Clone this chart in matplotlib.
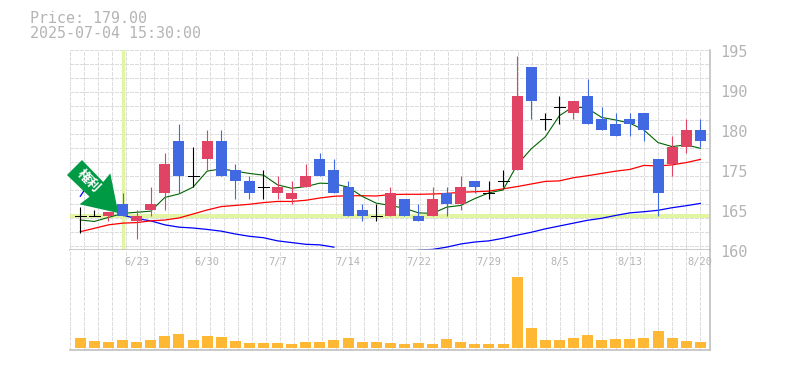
import numpy as np
import matplotlib
matplotlib.use('Agg')
import matplotlib.pyplot as plt
from matplotlib.patches import Polygon
from matplotlib.transforms import Affine2D

plt.rcParams['font.family'] = ['DejaVu Sans Mono']

# 日足データ
dates = ['6/23', '6/30', '7/7', '7/14', '7/22', '7/29', '8/5', '8/13', '8/20']
date_idx = [4, 9, 14, 19, 24, 29, 34, 39, 44]
opens = [166, 166, 166, 168, 165, 167, 170, 179, 173, 176, 179, 174, 172, 171, 170,
         169, 171, 176, 174, 171, 167, 166, 166, 169, 166, 166, 170, 168, 172, 170,
         172, 174, 192, 183, 185, 184, 187, 183, 182, 183, 184, 176, 175, 178, 181]
closes = [166, 166, 166.6, 166, 166, 168, 175, 173, 173, 179, 173, 172, 170, 171, 171,
          170, 173, 173, 170, 166, 166, 166, 170, 166, 165, 169, 168, 171, 171, 170,
          172, 187, 186, 183, 185, 186, 182, 181, 180, 182, 181, 170, 178, 181, 179]
highs = [167.5, 167, 166.6, 170, 167, 171, 177, 182, 178, 181, 181, 175, 173, 174, 173,
         172, 175, 177, 176, 172, 168, 168, 171, 169, 168, 171, 171, 173, 172, 172,
         174, 194, 192, 184, 187, 186, 190, 185, 184, 184, 184, 176, 180, 183, 183]
lows = [163, 166, 165, 166, 162, 166, 167, 170, 171, 174, 173, 169, 169, 169, 169,
        168, 171, 173, 170, 166, 165, 165, 166, 166, 165, 166, 166, 167, 170, 169,
        171, 174, 183, 181, 182, 183, 182, 181, 180, 180, 179, 166, 173, 177, 178]
volumes = [10, 7, 6, 8, 6, 8, 12, 14, 8, 12, 11, 7, 5, 5, 5, 4, 6, 6, 8, 10, 6, 6, 5,
           4, 5, 4, 9, 6, 4, 4, 4, 71, 20, 8, 8, 10, 13, 8, 9, 9, 10, 17, 10, 7, 6]

# 移動平均
ma_short = [165.25, 165.0, 165.7, 166.4, 166.6, 166.8, 169.2, 169.8, 171.0, 173.8, 174.2,
            173.8, 173.4, 173.1, 171.4, 170.8, 171.1, 171.7, 171.6, 171.0, 169.4, 168.2,
            167.8, 167.3, 166.5, 166.4, 167.5, 167.8, 169.0, 170.0, 170.5, 174.9, 177.7,
            179.8, 183.5, 185.1, 184.8, 183.2, 182.75, 182.2, 181.0, 178.8, 178.1, 178.4, 177.8]
ma_mid = [163.2, 163.8, 164.4, 164.7, 164.8, 165.1, 165.25, 165.6, 166.3, 167.0, 167.6,
          167.8, 168.0, 168.3, 168.5, 168.5, 168.7, 169.1, 169.4, 169.5, 169.5, 169.45,
          169.7, 169.75, 169.75, 169.8, 169.9, 170.1, 170.2, 170.3, 170.7, 171.1, 171.55,
          172.0, 172.1, 172.65, 173.0, 173.4, 173.8, 174.1, 174.8, 174.7, 174.9, 175.3, 175.85]
ma_long = [169.4, 173.1, 169.5, 166.1, 165.5, 165.1, 164.4, 164.0, 163.85, 163.6, 163.3,
           162.8, 162.4, 162.15, 161.6, 161.3, 161.0, 160.9, 160.5, np.nan, np.nan, np.nan,
           np.nan, np.nan, 160.0, 160.1, 160.5, 161.05, 161.4, 161.6, 162.05, 162.6, 163.1,
           163.7, 164.2, 164.7, 165.2, 165.55, 166.05, 166.5, 166.7, 166.95, 167.4, 167.75, 168.15]

ytick_vals = [160, 167, 174, 181, 188, 195]
ytick_labels = ['160', '165', '175', '180', '190', '195']
buy_price = 166
buy_idx = 3

x = np.arange(len(opens))
gray = '#b4b4b4'
grid_c = '#dddddd'
up_c = '#e04363'
down_c = '#4169e1'

fig = plt.figure(figsize=(7.85, 3.7), dpi=100)
ax = fig.add_axes([70 / 785, 120 / 370, 640 / 785, 200 / 370])
ax_v = fig.add_axes([70 / 785, 20 / 370, 640 / 785, 100 / 370])

xlim = (-0.731, 44.69)
for a in (ax, ax_v):
    a.set_xlim(xlim)
    for s in ('top', 'left'):
        a.spines[s].set_visible(False)
    for s in ('right', 'bottom'):
        a.spines[s].set_color('#bbbbbb')
        a.spines[s].set_linewidth(1.1)
    a.tick_params(length=0, labelbottom=False, labelleft=False)
    # 14pxごとの点線グリッド
    a.set_xticks(np.arange(46) * 14 / 14.09 - 0.71)
    a.grid(True, axis='x', color=grid_c, lw=0.72, ls=(0, (3, 2)), antialiased=False)
    a.set_axisbelow(True)

ax.set_ylim(160, 195)
ax.set_yticks(195 - np.arange(15) * 2.45)
ax.grid(True, axis='y', color=grid_c, lw=0.72, ls=(0, (3, 2)), antialiased=False)

ax_v.set_ylim(-2, 98)
ax_v.set_yticks([])

# 基準線
ax.axhline(buy_price, color='#e2f5a0', lw=2.8, zorder=1.5)
ax.axvline(buy_idx, ymin=0.005, ymax=0.995, color='#e2f5a0', lw=2.4, zorder=1.5)

ax.plot(x, ma_long, color='#0000ff', lw=0.9, zorder=2)
ax.plot(x, ma_mid, color='#ff0000', lw=0.9, zorder=2)
ax.plot(x, ma_short, color='#006400', lw=0.8, zorder=2)

# ローソク足
for i in x:
    o, c, h, l = opens[i], closes[i], highs[i], lows[i]
    if o == c:
        col = 'black'
        ax.plot([i - 0.39, i + 0.39], [o, o], color=col, lw=0.72, zorder=3, antialiased=False)
    else:
        col = up_c if c > o else down_c
        ax.bar(i, abs(c - o), bottom=min(o, c), width=0.78, color=col, zorder=3, antialiased=False)
    ax.plot([i, i], [l, h], color=col, lw=0.8, zorder=3, solid_capstyle='butt')

ax_v.bar(x, volumes, width=0.78, color='#ffb833', zorder=3, antialiased=False)

# 矢印
tip = ax.transData.transform((buy_idx, buy_price))
arrow_pts = [(-40.6, 55.7), (-19.3, 33.7), (-12.3, 42.4), (-4.3, 2.7),
             (-43, 11.4), (-33, 19), (-55.6, 40.7)]
ax.add_patch(Polygon(arrow_pts, closed=True, facecolor='#009944', edgecolor='none', zorder=5,
                     transform=Affine2D().translate(*tip), clip_on=False))
ax.annotate('権利', (buy_idx, buy_price), xytext=(-33.5, 34.5), textcoords='offset pixels',
            ha='center', va='center', rotation=-45, color='white', fontsize=9.5, fontweight='bold',
            family=['Noto Sans CJK JP', 'DejaVu Sans'], zorder=6)

# 文字
for v, lab in zip(ytick_vals, ytick_labels):
    ax.annotate(lab, (1, v), xycoords=('axes fraction', 'data'), xytext=(10, -2.7),
                textcoords='offset pixels', ha='left', va='center', color=gray, fontsize=11, annotation_clip=False)
for i, d in zip(date_idx, dates):
    ax_v.text(i, 86, d, ha='center', va='center', color=gray, fontsize=7.5, clip_on=False)

fig.text(30 / 785, 1 - 18.5 / 370, 'Price: 179.00', ha='left', va='center', color=gray, fontsize=10.8)
fig.text(30 / 785, 1 - 33 / 370, '2025-07-04 15:30:00', ha='left', va='center', color=gray, fontsize=10.8)

fig.savefig('out.png', dpi=100)
